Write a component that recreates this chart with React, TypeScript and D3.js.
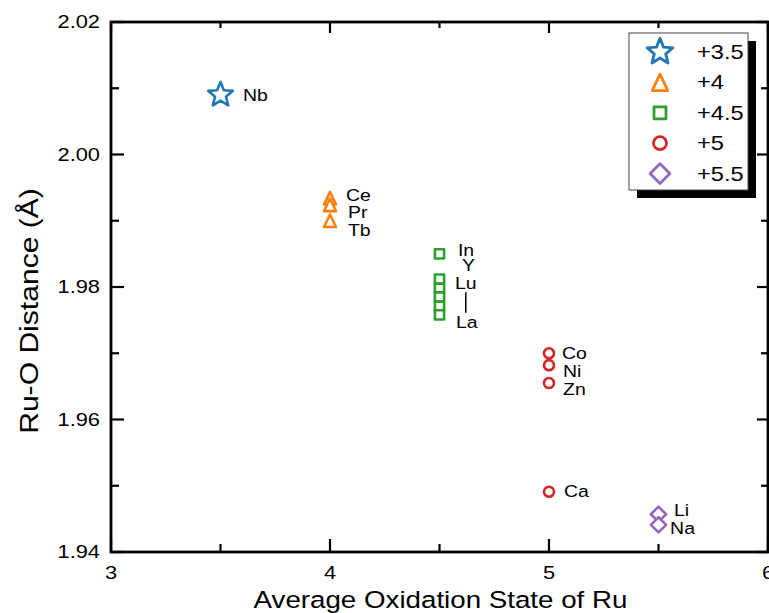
import React from "react";
import { scaleLinear } from "d3";

// series: oxidation state groups
const seriesNames = ["+3.5", "+4", "+4.5", "+5", "+5.5"];
const seriesColors = ["#1f77b4", "#ff7f0e", "#2ca02c", "#d62728", "#9467bd"];
const seriesShapes = ["star", "triangle", "square", "circle", "diamond"];

// Ru-O distances per group (x = average oxidation state)
const starPoints = [{ x: 3.5, y: 2.009 }];
const trianglePoints = [
  { x: 4, y: 1.9934 },
  { x: 4, y: 1.9924 },
  { x: 4, y: 1.99 },
];
const squarePoints = [
  { x: 4.5, y: 1.985 },
  { x: 4.5, y: 1.9812 },
  { x: 4.5, y: 1.9798 },
  { x: 4.5, y: 1.9785 },
  { x: 4.5, y: 1.9771 },
  { x: 4.5, y: 1.9758 },
];
const circlePoints = [
  { x: 5, y: 1.97 },
  { x: 5, y: 1.9682 },
  { x: 5, y: 1.9655 },
  { x: 5, y: 1.9491 },
];
const diamondPoints = [
  { x: 5.5, y: 1.9457 },
  { x: 5.5, y: 1.9441 },
];
const allPoints = [starPoints, trianglePoints, squarePoints, circlePoints, diamondPoints];

// element labels, anchored in data coordinates
const pointLabels = [
  { text: "Nb", x: 3.603, y: 2.009 },
  { text: "Ce", x: 4.073, y: 1.9939 },
  { text: "Pr", x: 4.082, y: 1.9913 },
  { text: "Tb", x: 4.082, y: 1.9886 },
  { text: "In", x: 4.584, y: 1.9856 },
  { text: "Y", x: 4.603, y: 1.9833 },
  { text: "Lu", x: 4.571, y: 1.9806 },
  { text: "La", x: 4.575, y: 1.9747 },
  { text: "Co", x: 5.059, y: 1.97 },
  { text: "Ni", x: 5.064, y: 1.9673 },
  { text: "Zn", x: 5.064, y: 1.9646 },
  { text: "Ca", x: 5.068, y: 1.9491 },
  { text: "Li", x: 5.571, y: 1.9463 },
  { text: "Na", x: 5.553, y: 1.9436 },
];
// the "|" between Lu and La
const rangeBar = { x: 4.62, y0: 1.9792, y1: 1.9761 };

const xTicks = [3, 4, 5, 6];
const xMinor = [3.5, 4.5, 5.5];
const yTicks = [1.94, 1.96, 1.98, 2.0, 2.02];
const yMinor = [1.95, 1.97, 1.99, 2.01];

const FONT = "'Liberation Sans', Arial, sans-serif";
const STRETCH = 1.18;

function markerPath(shape: string, k = 1): string {
  if (shape === "star") {
    const R = 13 * k;
    const r = R * 0.44;
    const pts: string[] = [];
    for (let i = 0; i < 10; i++) {
      const a = -Math.PI / 2 + (i * Math.PI) / 5;
      const rr = i % 2 === 0 ? R : r;
      pts.push(`${rr * Math.cos(a)},${rr * Math.sin(a)}`);
    }
    return "M" + pts.join("L") + "Z";
  }
  if (shape === "triangle") {
    const w = 6 * k;
    const h = 6.3 * k;
    return `M0,${-h}L${w},${h}L${-w},${h}Z`;
  }
  if (shape === "square") {
    const s = 4.6 * k;
    return `M${-s},${-s}L${s},${-s}L${s},${s}L${-s},${s}Z`;
  }
  if (shape === "diamond") {
    const d = 7.6 * k;
    return `M0,${-d}L${d},0L0,${d}L${-d},0Z`;
  }
  const r = 5 * k;
  return `M${r},0A${r},${r},0,1,1,${-r},0A${r},${r},0,1,1,${r},0Z`;
}

function SText({ x, y, size, anchor = "start", rotate = 0, children }: any) {
  return (
    <text
      transform={`translate(${x},${y}) rotate(${rotate}) scale(${STRETCH},1)`}
      fontSize={size}
      textAnchor={anchor}
      dy="0.35em"
      fontFamily={FONT}
      fill="#000"
    >
      {children}
    </text>
  );
}

export default function App() {
  const width = 769;
  const height = 613;
  const left = 111;
  const right = 768;
  const top = 22;
  const bottom = 552;

  const x = scaleLinear().domain([3, 6]).range([left, right]);
  const y = scaleLinear().domain([1.94, 2.02]).range([bottom, top]);

  const legX = 629;
  const legY = 33;
  const legW = 119;
  const legH = 157;

  return (
    <svg
      width={width}
      height={height}
      style={{ position: "absolute", left: 0, top: 0, background: "#fff" }}
    >
      {/* ticks, inward on all four sides */}
      <g stroke="#000" strokeWidth={2.2}>
        {xTicks.map((t) => (
          <g key={"xt" + t}>
            <line x1={x(t)} x2={x(t)} y1={bottom} y2={bottom - 13} />
            <line x1={x(t)} x2={x(t)} y1={top} y2={top + 11} />
          </g>
        ))}
        {xMinor.map((t) => (
          <g key={"xm" + t}>
            <line x1={x(t)} x2={x(t)} y1={bottom} y2={bottom - 8} />
            <line x1={x(t)} x2={x(t)} y1={top} y2={top + 6} />
          </g>
        ))}
        {yTicks.map((t) => (
          <g key={"yt" + t}>
            <line x1={left} x2={left + 13} y1={y(t)} y2={y(t)} />
            <line x1={right} x2={right - 11} y1={y(t)} y2={y(t)} />
          </g>
        ))}
        {yMinor.map((t) => (
          <g key={"ym" + t}>
            <line x1={left} x2={left + 8} y1={y(t)} y2={y(t)} />
            <line x1={right} x2={right - 7} y1={y(t)} y2={y(t)} />
          </g>
        ))}
      </g>
      <rect
        x={left}
        y={top}
        width={right - left}
        height={bottom - top}
        fill="none"
        stroke="#000"
        strokeWidth={2.8}
      />

      {/* tick labels */}
      {xTicks.map((t) => (
        <SText key={"xl" + t} x={x(t)} y={bottom + 21} size={18.5} anchor="middle">
          {t}
        </SText>
      ))}
      {yTicks.map((t) => (
        <SText key={"yl" + t} x={left - 11} y={y(t)} size={18.5} anchor="end">
          {t.toFixed(2)}
        </SText>
      ))}

      {/* axis titles */}
      <SText x={(left + right) / 2 + 1} y={600} size={23.5} anchor="middle">
        Average Oxidation State of Ru
      </SText>
      <SText x={29} y={311} size={25.5} anchor="middle" rotate={-90}>
        Ru-O Distance (Å)
      </SText>

      {/* markers */}
      {allPoints.map((pts, i) => (
        <g key={"s" + i} fill="#fff" stroke={seriesColors[i]} strokeWidth={2.6} strokeLinejoin="round">
          {pts.map((p, j) => (
            <path
              key={j}
              d={markerPath(seriesShapes[i])}
              transform={`translate(${x(p.x)},${y(p.y)})`}
            />
          ))}
        </g>
      ))}

      {/* element labels */}
      {pointLabels.map((l) => (
        <SText key={l.text} x={x(l.x)} y={y(l.y)} size={16.5}>
          {l.text}
        </SText>
      ))}
      <line
        x1={x(rangeBar.x)}
        x2={x(rangeBar.x)}
        y1={y(rangeBar.y0)}
        y2={y(rangeBar.y1)}
        stroke="#000"
        strokeWidth={1.5}
      />

      {/* legend with drop shadow */}
      <rect x={legX + 8} y={legY + 8} width={legW} height={legH} fill="#000" />
      <rect x={legX} y={legY} width={legW} height={legH} fill="#fff" stroke="#444" strokeWidth={1} />
      {seriesNames.map((name, i) => {
        const ry = legY + 19 + i * 30.4;
        return (
          <g key={name}>
            <path
              d={markerPath(seriesShapes[i], i === 0 ? 1.05 : 1.3)}
              transform={`translate(${legX + 31},${ry})`}
              fill="#fff"
              stroke={seriesColors[i]}
              strokeWidth={2.8}
              strokeLinejoin="round"
            />
            <SText x={legX + 68} y={ry} size={20}>
              {name}
            </SText>
          </g>
        );
      })}
    </svg>
  );
}
